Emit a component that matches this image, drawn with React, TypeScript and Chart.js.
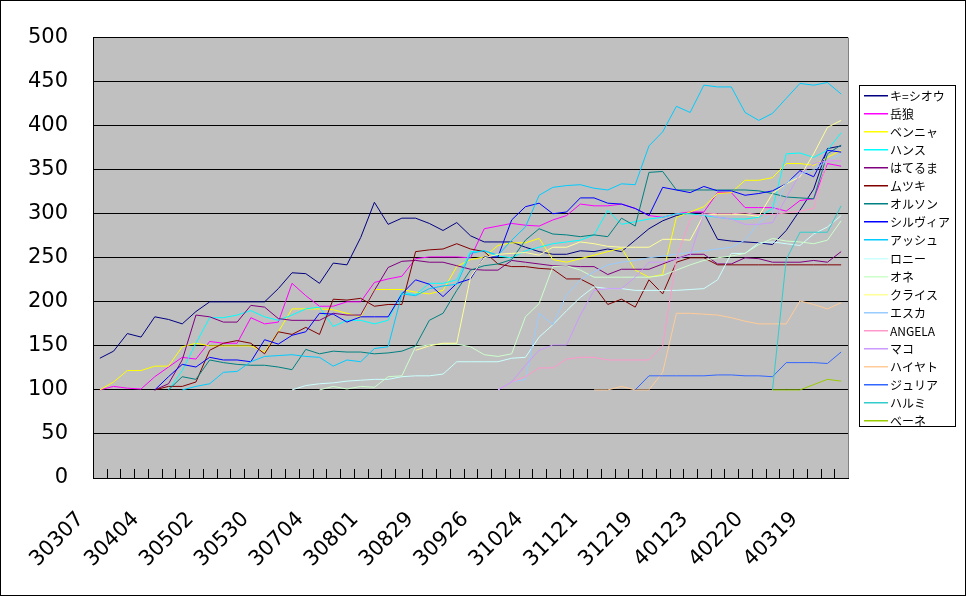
import { useEffect, useRef } from "react";
import { Chart, registerables } from "chart.js";

Chart.register(...registerables);

const categories = [
  "30307","30314","30321","30328","30404","30411","30418","30425","30502","30509",
  "30516","30523","30530","30606","30613","30620","30704","30711","30718","30725",
  "30801","30808","30815","30822","30829","30905","30912","30919","30926","31003",
  "31010","31017","31024","31031","31107","31114","31121","31128","31205","31212",
  "31219","31226","40109","40116","40123","40130","40206","40213","40220","40227",
  "40305","40312","40319","40326","40402",
];
const labelEvery = 4;
const yTicks = { min: 0, max: 500, step: 50 };

const seriesNames = [
  "キ=シオウ","岳狼","ベンニャ","ハンス","はてるま","ムツキ","オルソン","シルヴィア","アッシュ","ロニー",
  "オネ","クライス","エスカ","ANGELA","マコ","ハイヤト","ジュリア","ハルミ","ベーネ",
];
const seriesColors = [
  "#000080","#FF00FF","#FFFF00","#00FFFF","#800080","#800000","#008080","#0000FF","#00CCFF","#CCFFFF",
  "#CCFFCC","#FFFF99","#99CCFF","#FF99CC","#CC99FF","#FFCC99","#3366FF","#33CCCC","#99CC00",
];

const N = null;
const kishiou = [136,144,164,160,183,180,175,189,200,200,200,200,200,215,233,232,221,244,242,273,313,288,295,295,289,281,290,275,268,268,268,262,257,254,254,258,257,260,257,270,283,292,298,301,301,271,269,268,267,265,281,304,328,374,377];
const gakurou = [100,104,102,101,115,126,137,135,155,153,153,182,175,177,221,207,195,195,200,200,222,226,229,249,251,251,251,250,283,286,289,287,286,293,298,311,309,309,311,306,298,296,300,302,302,324,324,307,307,307,303,315,317,357,354];
const bennya = [100,109,122,122,127,127,149,153,150,150,150,150,143,166,192,192,192,191,187,183,214,214,214,211,209,213,240,248,251,264,267,267,272,248,245,249,253,257,261,236,228,231,296,302,308,323,324,338,338,341,357,357,355,364,372];
const hans = [N,N,N,N,N,100,122,153,182,182,185,190,183,179,185,192,194,172,179,179,175,179,211,208,221,221,225,257,258,252,250,258,262,266,268,270,276,304,288,291,294,296,300,300,298,296,294,294,296,306,368,369,364,372,392];
const hateruma = [N,N,N,N,100,107,134,185,183,177,177,196,194,181,179,179,179,187,185,185,213,239,246,247,245,245,241,237,236,236,247,245,243,241,241,240,240,231,237,237,237,243,249,254,254,243,243,250,249,245,245,245,247,245,257];
const mutsuki = [N,N,N,N,100,104,104,109,145,153,156,153,141,166,163,171,163,203,202,204,195,197,197,257,259,260,266,260,257,243,240,240,238,237,226,226,218,197,203,194,225,209,245,250,250,242,242,242,242,242,242,242,242,242,242];
const olson = [N,N,N,N,N,100,115,112,134,131,129,128,128,126,123,146,141,144,143,143,141,142,144,150,179,187,213,236,241,243,248,270,283,277,276,274,276,274,295,286,347,348,327,327,327,327,327,327,326,323,319,318,317,368,378];
const sylvia = [N,N,N,N,100,115,129,126,137,134,134,132,157,152,162,166,187,186,177,183,183,183,209,225,220,206,221,226,251,251,293,308,312,300,302,318,318,312,311,306,298,330,327,324,331,326,326,321,323,326,334,349,342,372,370];
const ash = [N,N,N,N,N,N,100,104,107,120,121,132,138,139,140,138,137,127,134,132,147,149,209,207,215,218,220,255,258,253,270,285,321,330,332,333,329,327,334,333,377,393,422,415,446,444,444,415,406,414,431,448,446,449,436];
const ronnie = [N,N,N,N,N,N,N,N,N,N,N,N,N,N,100,105,107,108,110,111,112,112,115,116,116,118,132,132,132,132,136,137,160,174,190,205,217,215,215,213,213,213,213,214,215,225,255,255,267,268,266,264,277,285,298];
const one = [N,N,N,N,N,N,N,N,N,N,N,N,N,N,N,N,100,104,101,104,103,115,116,149,151,152,152,149,140,138,141,183,198,240,241,236,228,228,228,228,228,230,236,242,247,250,252,255,265,272,269,268,266,270,292];
const kreis = [N,N,N,N,N,N,N,N,N,N,N,N,N,N,N,N,N,N,N,N,N,N,N,145,150,153,153,228,250,254,255,256,253,262,262,268,266,263,262,262,262,271,271,270,299,299,299,299,297,323,334,342,368,398,406];
const eska = [N,N,N,N,N,N,N,N,N,N,N,N,N,N,N,N,N,N,N,N,N,N,N,N,N,N,N,N,N,100,109,112,187,174,208,225,234,242,245,247,250,252,254,256,258,260,262,270,290,300,335,345,350,360,368];
const angela = [N,N,N,N,N,N,N,N,N,N,N,N,N,N,N,N,N,N,N,N,N,N,N,N,N,N,N,N,N,100,109,115,125,125,135,137,137,134,134,134,134,150,250,293,301,300,300,301,299,299,301,303,306,361,360];
const mako = [N,N,N,N,N,N,N,N,N,N,N,N,N,N,N,N,N,N,N,N,N,N,N,N,N,N,N,N,N,100,109,128,145,151,151,185,213,215,215,228,245,245,249,253,300,296,294,288,288,290,318,345,357,360,360];
const haiyato = [N,N,N,N,N,N,N,N,N,N,N,N,N,N,N,N,N,N,N,N,N,N,N,N,N,N,N,N,N,N,N,N,N,N,N,N,100,100,104,100,100,120,187,187,186,185,182,178,175,175,175,201,197,192,199];
const julia = [N,N,N,N,N,N,N,N,N,N,N,N,N,N,N,N,N,N,N,N,N,N,N,N,N,N,N,N,N,N,N,N,N,N,N,N,N,N,N,100,116,116,116,116,116,117,117,116,116,115,131,131,131,130,143];
const harumi = [N,N,N,N,N,N,N,N,N,N,N,N,N,N,N,N,N,N,N,N,N,N,N,N,N,N,N,N,N,N,N,N,N,N,N,N,N,N,N,N,N,N,N,N,N,N,N,N,N,100,248,279,279,279,309];
const bene = [N,N,N,N,N,N,N,N,N,N,N,N,N,N,N,N,N,N,N,N,N,N,N,N,N,N,N,N,N,N,N,N,N,N,N,N,N,N,N,N,N,N,N,N,N,N,N,N,N,100,100,100,106,112,110];

const seriesValues = [
  kishiou, gakurou, bennya, hans, hateruma, mutsuki, olson, sylvia, ash, ronnie,
  one, kreis, eska, angela, mako, haiyato, julia, harumi, bene,
];

const AXIS_FONT = "DejaVu Sans";
const LEGEND_FONT = "'Noto Sans CJK JP', sans-serif";

const decorPlugin = {
  id: "decor",
  beforeDraw(chart: any) {
    const { ctx, chartArea: a } = chart;
    ctx.save();
    ctx.fillStyle = "#ffffff";
    ctx.fillRect(0, 0, chart.width, chart.height);
    ctx.fillStyle = "#C0C0C0";
    ctx.fillRect(a.left, a.top, a.right - a.left, a.bottom - a.top);
    ctx.restore();
  },
  beforeDatasetsDraw(chart: any) {
    const { ctx, chartArea: a } = chart;
    const x = chart.scales.x;
    const n = categories.length;
    const w = (a.right - a.left) / n;
    ctx.save();
    ctx.strokeStyle = "#000";
    ctx.lineWidth = 1;
    ctx.beginPath();
    for (let j = 1; j < n; j++) {
      const px = Math.round(x.getPixelForValue(j - 1) + w / 2) + 0.5;
      ctx.moveTo(px, a.bottom - 9);
      ctx.lineTo(px, a.bottom);
    }
    ctx.stroke();
    ctx.restore();
  },
  afterDraw(chart: any) {
    const { ctx, chartArea: a } = chart;
    const x = chart.scales.x;
    ctx.save();
    ctx.strokeStyle = "#808080";
    ctx.lineWidth = 1;
    ctx.beginPath();
    ctx.moveTo(Math.round(a.right) + 0.5, a.top);
    ctx.lineTo(Math.round(a.right) + 0.5, a.bottom);
    ctx.stroke();
    ctx.strokeStyle = "#000";
    ctx.strokeRect(0.5, 0.5, chart.width - 1, chart.height - 1);

    ctx.fillStyle = "#000";
    ctx.font = `21px ${AXIS_FONT}`;
    ctx.textAlign = "right";
    ctx.textBaseline = "middle";
    categories.forEach((c, i) => {
      if (i % labelEvery !== 0) return;
      const px = x.getPixelForValue(i) - 19;
      const py = a.bottom + 38;
      ctx.save();
      ctx.translate(px, py);
      ctx.rotate(-Math.PI / 4);
      ctx.fillText(c, 0, 0);
      ctx.restore();
    });

    const lx = 859.5, ly = 85.5, lw = 96, lh = 341;
    ctx.fillStyle = "#fff";
    ctx.fillRect(lx, ly, lw, lh);
    ctx.strokeStyle = "#000";
    ctx.lineWidth = 1;
    ctx.strokeRect(lx, ly, lw, lh);
    ctx.font = `12px ${LEGEND_FONT}`;
    ctx.textAlign = "left";
    ctx.textBaseline = "middle";
    seriesNames.forEach((name, k) => {
      const yy = Math.round(95 + k * 18.06);
      ctx.fillStyle = seriesColors[k];
      ctx.fillRect(864, yy, 24, 1.5);
      ctx.fillStyle = "#000";
      ctx.fillText(name, 890, yy + 1);
    });
    ctx.restore();
  },
};

export default function App() {
  const ref = useRef<HTMLCanvasElement>(null);
  useEffect(() => {
    if (!ref.current) return;
    const chart = new Chart(ref.current, {
      type: "line",
      data: {
        labels: categories,
        datasets: seriesNames.map((name, k) => ({
          label: name,
          data: seriesValues[k],
          borderColor: seriesColors[k],
          backgroundColor: seriesColors[k],
          borderWidth: 1,
          pointRadius: 0,
          pointHoverRadius: 0,
          tension: 0,
          fill: false,
          spanGaps: false,
          order: -k,
        })),
      },
      options: {
        responsive: false,
        animation: false,
        devicePixelRatio: 1,
        events: [],
        layout: { padding: { left: 0, top: 37, right: 118, bottom: 0 } },
        plugins: {
          legend: { display: false },
          tooltip: { enabled: false },
          title: { display: false },
        },
        scales: {
          x: {
            type: "category",
            offset: true,
            ticks: { display: false },
            grid: { display: false },
            border: { display: true, color: "#000", width: 1 },
            afterFit: (s: any) => { s.height = 118; },
          },
          y: {
            min: yTicks.min,
            max: yTicks.max,
            ticks: {
              stepSize: yTicks.step,
              color: "#000",
              font: { size: 21, family: AXIS_FONT },
              padding: 25,
            },
            grid: { color: "#000", lineWidth: 1, drawTicks: false },
            border: { display: true, color: "#000", width: 1 },
            afterFit: (s: any) => { s.width = 93; },
          },
        },
      },
      plugins: [decorPlugin],
    } as any);
    return () => chart.destroy();
  }, []);
  return (
    <div style={{ position: "absolute", left: 0, top: 0, width: 966, height: 596 }}>
      <canvas ref={ref} width={966} height={596} style={{ display: "block", width: 966, height: 596 }} />
    </div>
  );
}
